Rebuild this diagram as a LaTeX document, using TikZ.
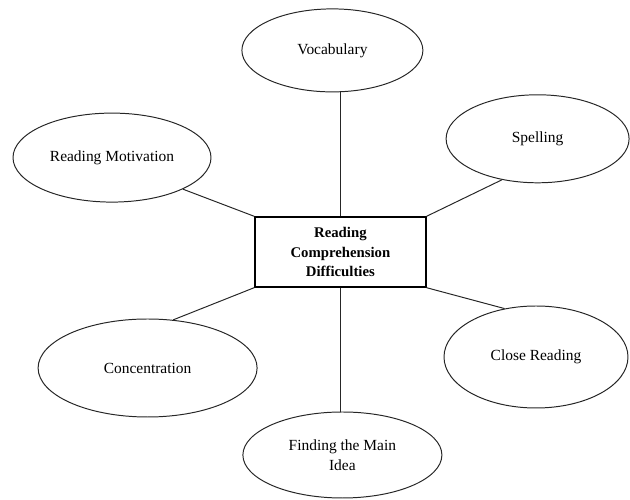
\documentclass[tikz,border=0pt]{standalone}
\usepackage{fontspec}
\setmainfont{Liberation Serif}
\usepackage{tikz}
\usetikzlibrary{shapes.geometric, positioning, calc}

\begin{document}
\begin{tikzpicture}[
    font=\fontsize{11}{14}\selectfont,
    topic/.style={ellipse, draw=black!85, line width=0.7pt, inner sep=0pt, align=center},
    corebox/.style={rectangle, draw=black, line width=1pt, inner sep=0pt, align=center, font=\fontsize{10.5}{14}\selectfont\bfseries},
    link/.style={draw=black!85, line width=0.7pt}
]
\useasboundingbox (0,0) rectangle (15.75,12.5);

% Central concept
\node[corebox, minimum width=4.275cm, minimum height=1.75cm] (rcd) at (8.51, 6.2) {Reading\\Comprehension\\Difficulties};

% Surrounding factors
\node[topic, minimum width=4.525cm, minimum height=2.075cm] (voc) at (8.31, 11.24) {Vocabulary};
\node[topic, minimum width=4.95cm, minimum height=2.225cm] (motiv) at (2.8, 8.56) {Reading Motivation};
\node[topic, minimum width=4.575cm, minimum height=2.2cm] (spell) at (13.44, 9.03) {Spelling};
\node[topic, minimum width=5.475cm, minimum height=2.45cm] (conc) at (3.69, 3.3) {Concentration};
\node[topic, minimum width=4.6cm, minimum height=2.55cm] (close) at (13.4, 3.575) {Close Reading};
\node[topic, minimum width=4.975cm, minimum height=2.15cm] (find) at (8.56, 1.125) {Finding the Main\\Idea};

% Connectors
\draw[link] (rcd.north) -- (rcd.north |- voc.south);
\draw[link] (rcd.north west) -- (motiv.-24);
\draw[link] (rcd.north east) -- (spell.-131);
\draw[link] (rcd.south west) -- (conc.62);
\draw[link] (rcd.south east) -- (close.123);
\draw[link] (rcd.south) -- (rcd.south |- find.north);

\end{tikzpicture}
\end{document}
